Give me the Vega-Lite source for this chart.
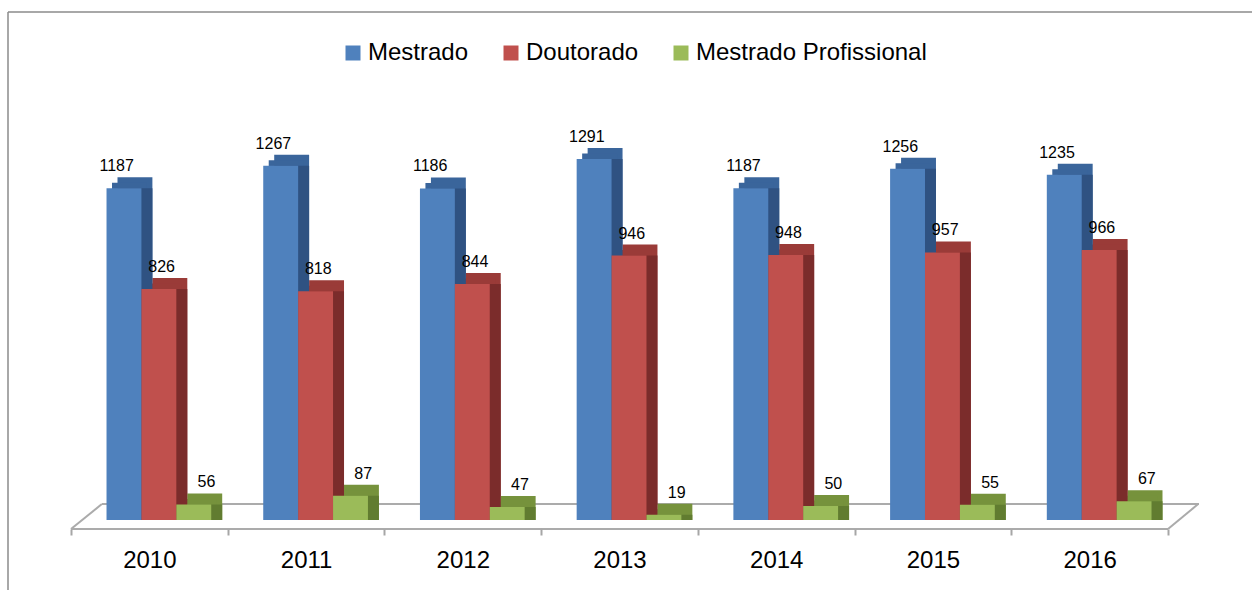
{
  "$schema": "https://vega.github.io/schema/vega-lite/v6.json",
  "width": 1244,
  "height": 578,
  "autosize": {"type": "none"},
  "padding": {"left": 8, "top": 12, "right": 0, "bottom": 0},
  "background": "white",
  "config": {
    "font": "Liberation Sans",
    "view": {"stroke": "#8c8c8c", "strokeWidth": 1.5, "strokeDash": [1244, 1822, 578, 0]}
  },
  "data": {
    "values": [
      {"year": "2010", "series": "Mestrado", "value": 1187},
      {"year": "2010", "series": "Doutorado", "value": 826},
      {"year": "2010", "series": "Mestrado Profissional", "value": 56},
      {"year": "2011", "series": "Mestrado", "value": 1267},
      {"year": "2011", "series": "Doutorado", "value": 818},
      {"year": "2011", "series": "Mestrado Profissional", "value": 87},
      {"year": "2012", "series": "Mestrado", "value": 1186},
      {"year": "2012", "series": "Doutorado", "value": 844},
      {"year": "2012", "series": "Mestrado Profissional", "value": 47},
      {"year": "2013", "series": "Mestrado", "value": 1291},
      {"year": "2013", "series": "Doutorado", "value": 946},
      {"year": "2013", "series": "Mestrado Profissional", "value": 19},
      {"year": "2014", "series": "Mestrado", "value": 1187},
      {"year": "2014", "series": "Doutorado", "value": 948},
      {"year": "2014", "series": "Mestrado Profissional", "value": 50},
      {"year": "2015", "series": "Mestrado", "value": 1256},
      {"year": "2015", "series": "Doutorado", "value": 957},
      {"year": "2015", "series": "Mestrado Profissional", "value": 55},
      {"year": "2016", "series": "Mestrado", "value": 1235},
      {"year": "2016", "series": "Doutorado", "value": 966},
      {"year": "2016", "series": "Mestrado Profissional", "value": 67}
    ]
  },
  "encoding": {
    "x": {
      "field": "year",
      "type": "nominal",
      "scale": {"paddingInner": 0, "paddingOuter": 0.469, "align": 0.4286},
      "axis": {
        "title": null,
        "offset": -61,
        "domain": false,
        "grid": false,
        "tickBand": "extent",
        "tickSize": 6,
        "tickColor": "#a6a6a6",
        "tickWidth": 2,
        "labelAngle": 0,
        "labelFontSize": 24,
        "labelPadding": 13,
        "labelColor": "#000000"
      }
    }
  },
  "layer": [
    {
      "mark": {"type": "rect", "fillOpacity": 0, "stroke": "#ababab", "strokeWidth": 2, "yOffset": 9, "y2Offset": 9},
      "encoding": {
        "y": {"datum": 0, "type": "quantitative", "scale": {"domain": [-250, 1817]}, "axis": null},
        "y2": {"datum": 0}
      }
    },
    {
      "mark": {"type": "rect", "fillOpacity": 0, "stroke": "#ababab", "strokeWidth": 2, "yOffset": -16, "y2Offset": -16, "xOffset": 31, "x2Offset": 31},
      "encoding": {
        "y": {"datum": 0, "type": "quantitative", "scale": {"domain": [-250, 1817]}, "axis": null},
        "y2": {"datum": 0}
      }
    },
    {
      "data": {"values": [{}]},
      "mark": {"type": "rule", "stroke": "#ababab", "strokeWidth": 2, "yOffset": 9, "y2Offset": -16, "x2Offset": -47.5},
      "encoding": {
        "x": {"datum": "2010", "type": "nominal", "bandPosition": 0},
        "x2": {"datum": "2010"},
        "y": {"datum": 0, "type": "quantitative", "scale": {"domain": [-250, 1817]}, "axis": null},
        "y2": {"datum": 0}
      }
    },
    {
      "data": {"values": [{}]},
      "mark": {"type": "rule", "stroke": "#ababab", "strokeWidth": 2, "yOffset": 9, "y2Offset": -16, "x2Offset": 108.5},
      "encoding": {
        "x": {"datum": "2016", "type": "nominal", "bandPosition": 1},
        "x2": {"datum": "2016"},
        "y": {"datum": 0, "type": "quantitative", "scale": {"domain": [-250, 1817]}, "axis": null},
        "y2": {"datum": 0}
      }
    },
    {
      "mark": {"type": "bar", "yOffset": -11, "y2Offset": -11},
      "encoding": {
        "y": {"field": "value", "type": "quantitative", "stack": null, "scale": {"domain": [-250, 1817]}, "axis": null},
        "xOffset": {
          "field": "series", "type": "nominal",
          "sort": ["Mestrado", "Doutorado", "Mestrado Profissional"],
          "scale": {"paddingInner": 0, "paddingOuter": 0.745, "align": 0.894}
        },
        "color": {
          "field": "series", "type": "nominal",
          "scale": {"domain": ["Mestrado", "Doutorado", "Mestrado Profissional"], "range": ["#3a659b", "#9a3b38", "#76923c"]},
          "legend": null
        }
      }
    },
    {
      "mark": {"type": "bar", "yOffset": -5.5, "y2Offset": -5.5},
      "encoding": {
        "y": {"field": "value", "type": "quantitative", "stack": null, "scale": {"domain": [-250, 1817]}, "axis": null},
        "xOffset": {
          "field": "series", "type": "nominal",
          "sort": ["Mestrado", "Doutorado", "Mestrado Profissional"],
          "scale": {"paddingInner": 0, "paddingOuter": 0.745, "align": 0.7885}
        },
        "color": {
          "field": "series", "type": "nominal",
          "scale": {"domain": ["Mestrado", "Doutorado", "Mestrado Profissional"], "range": ["#3a659b", "#9a3b38", "#76923c"]},
          "legend": null
        }
      }
    },
    {
      "mark": {"type": "bar"},
      "encoding": {
        "y": {"field": "value", "type": "quantitative", "stack": null, "scale": {"domain": [-250, 1817]}, "axis": null},
        "xOffset": {
          "field": "series", "type": "nominal",
          "sort": ["Mestrado", "Doutorado", "Mestrado Profissional"],
          "scale": {"paddingInner": 0, "paddingOuter": 0.745, "align": 0.894}
        },
        "color": {
          "field": "series", "type": "nominal",
          "scale": {"domain": ["Mestrado", "Doutorado", "Mestrado Profissional"], "range": ["#2f5282", "#7b2c2b", "#617c30"]},
          "legend": null
        }
      }
    },
    {
      "mark": {"type": "bar"},
      "encoding": {
        "y": {"field": "value", "type": "quantitative", "stack": null, "scale": {"domain": [-250, 1817]}, "axis": null},
        "xOffset": {
          "field": "series", "type": "nominal",
          "sort": ["Mestrado", "Doutorado", "Mestrado Profissional"],
          "scale": {"paddingInner": 0, "paddingOuter": 0.745, "align": 0.683}
        },
        "color": {
          "field": "series", "type": "nominal",
          "sort": ["Mestrado", "Doutorado", "Mestrado Profissional"],
          "scale": {"domain": ["Mestrado", "Doutorado", "Mestrado Profissional"], "range": ["#4f81bd", "#c0504d", "#9bbb59"]},
          "legend": {
            "title": null,
            "orient": "none",
            "legendX": 333,
            "legendY": 29,
            "direction": "horizontal",
            "symbolType": "square",
            "symbolSize": 225,
            "symbolStrokeWidth": 0,
            "labelFontSize": 24,
            "labelOffset": 3,
            "labelLimit": 500,
            "columnPadding": 30,
            "labelColor": "#000000",
            "padding": 0
          }
        }
      }
    },
    {
      "mark": {"type": "text", "fontSize": 16, "baseline": "alphabetic", "dy": -17, "color": "#000000"},
      "encoding": {
        "y": {"field": "value", "type": "quantitative", "stack": null, "scale": {"domain": [-250, 1817]}, "axis": null},
        "xOffset": {
          "field": "series", "type": "nominal",
          "sort": ["Mestrado", "Doutorado", "Mestrado Profissional"],
          "scale": {"paddingInner": 0, "paddingOuter": 0.745, "align": 0.683}
        },
        "text": {"field": "value", "type": "quantitative"},
        "fontWeight": {
          "condition": {"test": "datum.year == '2015' && datum.series == 'Mestrado Profissional'", "value": "bold"},
          "value": "normal"
        }
      }
    }
  ],
  "resolve": {"scale": {"xOffset": "independent", "color": "independent"}}
}
